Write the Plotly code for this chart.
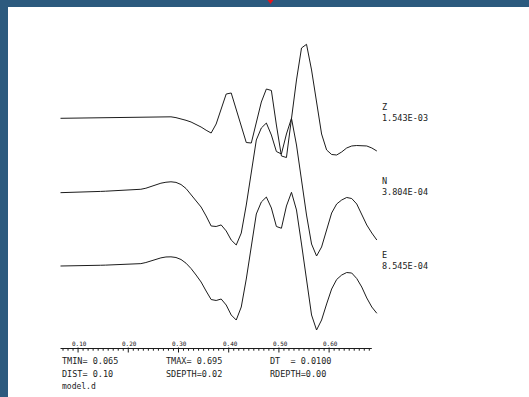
import numpy as np
import plotly.graph_objects as go

# ---- record header -------------------------------------------------------
TMIN = 0.065
TMAX = 0.695
DT = 0.0100
DIST = 0.10
SDEPTH = 0.02
RDEPTH = 0.00
MODEL = "model.d"

components = ["Z", "N", "E"]
peak_amp = [1.543e-03, 3.804e-04, 8.545e-04]

# ---- seismogram samples, in units of each trace's peak amplitude ---------
z_trace = [
    0.000, 0.001, 0.003, 0.004, 0.008, 0.008, 0.007, 0.005, 0.004, 0.004,
    0.004, 0.005, 0.007, 0.009, 0.014, 0.016, 0.018, 0.019, 0.020, 0.022,
    0.023, 0.023, 0.020, 0.009, -0.007, -0.027, -0.050, -0.081, -0.118, -0.161,
    -0.199, -0.077, 0.139, 0.328, 0.342, 0.112, -0.118, -0.327, -0.334, -0.050,
    0.220, 0.396, 0.376, -0.091, -0.509, -0.530, 0.004, 0.518, 0.950, 1.000,
    0.653, 0.193, -0.212, -0.428, -0.489, -0.496, -0.455, -0.401, -0.374, -0.368,
    -0.368, -0.374, -0.401, -0.442,
]
n_trace = [
    -0.005, -0.004, -0.003, 0.000, 0.001, 0.004, 0.007, 0.009, 0.012, 0.015,
    0.018, 0.020, 0.023, 0.026, 0.028, 0.034, 0.041, 0.055, 0.078, 0.104,
    0.123, 0.136, 0.142, 0.134, 0.105, 0.051, -0.030, -0.104, -0.199, -0.320,
    -0.455, -0.462, -0.441, -0.522, -0.645, -0.712, -0.551, -0.172, 0.274, 0.707,
    0.869, 0.936, 0.774, 0.551, 0.518, 0.788, 1.000, 0.639, 0.166, -0.307,
    -0.699, -0.861, -0.739, -0.509, -0.280, -0.158, -0.104, -0.070, -0.084, -0.158,
    -0.293, -0.442, -0.550, -0.645,
]
e_trace = [
    0.004, 0.004, 0.005, 0.007, 0.008, 0.009, 0.011, 0.012, 0.014, 0.016,
    0.018, 0.019, 0.020, 0.022, 0.024, 0.028, 0.036, 0.051, 0.072, 0.095,
    0.114, 0.126, 0.128, 0.119, 0.092, 0.042, -0.030, -0.118, -0.212, -0.334,
    -0.449, -0.462, -0.442, -0.523, -0.658, -0.726, -0.550, -0.172, 0.274, 0.707,
    0.869, 0.936, 0.788, 0.538, 0.514, 0.815, 1.000, 0.761, 0.301, -0.199,
    -0.658, -0.861, -0.726, -0.509, -0.307, -0.178, -0.118, -0.084, -0.091, -0.165,
    -0.280, -0.428, -0.550, -0.635,
]
traces = [z_trace, n_trace, e_trace]

# ---- time axis ----------------------------------------------------------
tick_major = [0.10, 0.20, 0.30, 0.40, 0.50, 0.60]
tick_labels = ["0.10", "0.20", "0.30", "0.40", "0.50", "0.60"]
axis_end = 0.685

# ---- page geometry (pixels) ---------------------------------------------
W, H = 529, 397
PX_PER_S = 502.1          # horizontal scale of the time axis
X0_PX = 60.5              # pixel column of TMIN
Z0_PX = 118.3             # pixel row of the first trace's zero line
TRACE_PX = 74.0           # pixel height of one unit (trace spacing = peak)
LABEL_X_PX = 381
AXIS_Y_PX = 348.5

INK = "#1c1c1c"
FRAME = "#2c5a7e"
MONO = "DejaVu Sans Mono"


def py(p):
    """pixel row -> paper y"""
    return 1.0 - p / H


def px(p):
    """pixel column -> paper x"""
    return p / W


x_range = [TMIN - X0_PX / PX_PER_S, TMIN + (W - X0_PX) / PX_PER_S]
y_range = [-(H - Z0_PX) / TRACE_PX, Z0_PX / TRACE_PX]

fig = go.Figure()
annotations = []
shapes = []

for i, (name, trace, peak) in enumerate(zip(components, traces, peak_amp)):
    amp = np.asarray(trace) * peak
    t = TMIN + DT * np.arange(len(amp))
    amax = np.max(np.abs(amp))
    offset = -float(i)
    fig.add_trace(go.Scatter(
        x=t, y=offset + amp / amax, mode="lines",
        line=dict(color=INK, width=1), hoverinfo="skip", showlegend=False,
    ))
    base_px = Z0_PX + i * TRACE_PX
    # component name stacked over its peak amplitude
    annotations.append(dict(
        text=f"{name}<br>{amax:.3E}", x=px(LABEL_X_PX), y=py(base_px + 5.5),
        xref="paper", yref="paper", xanchor="left", yanchor="bottom",
        align="left", showarrow=False, borderpad=0,
        font=dict(family=MONO, size=8.5, color=INK)))

# time axis line with minor ticks every DT and major ticks at labelled values
shapes.append(dict(type="line", xref="x", yref="paper",
                   x0=TMIN, x1=axis_end, y0=py(AXIS_Y_PX), y1=py(AXIS_Y_PX),
                   line=dict(color=INK, width=1)))
n_minor = int(round((axis_end - TMIN) / DT))
for k in range(n_minor + 1):
    tk = round(TMIN + 0.005 + k * DT, 4)
    if tk > axis_end:
        break
    major = any(abs(tk - m) < 1e-6 for m in tick_major)
    shapes.append(dict(type="line", xref="x", yref="paper",
                       x0=tk, x1=tk, y0=py(AXIS_Y_PX - (1.0 if major else 0.0)),
                       y1=py(AXIS_Y_PX + (4.0 if major else 2.2)),
                       line=dict(color=INK, width=1)))
for tv, tl in zip(tick_major, tick_labels):
    annotations.append(dict(
        text=tl, x=tv, y=py(343.5), xref="x", yref="paper",
        xanchor="center", yanchor="middle", xshift=1.5, showarrow=False,
        font=dict(family=MONO, size=6, color="#111111")))

# header block under the axis
rows = [
    (60, 361, f"TMIN= {TMIN:.3f}"),
    (164, 361, f"TMAX= {TMAX:.3f}"),
    (268, 361, f"DT  = {DT:.4f}"),
    (60, 373.5, f"DIST= {DIST:.2f}"),
    (164, 373.5, f"SDEPTH={SDEPTH:.2f}"),
    (268, 373.5, f"RDEPTH={RDEPTH:.2f}"),
]
for xp, yp, txt in rows:
    annotations.append(dict(
        text=txt, x=px(xp), y=py(yp), xref="paper", yref="paper",
        xanchor="left", yanchor="middle", showarrow=False,
        font=dict(family=MONO, size=8.5, color=INK)))
annotations.append(dict(
    text=MODEL, x=px(60), y=py(386), xref="paper", yref="paper",
    xanchor="left", yanchor="middle", showarrow=False,
    font=dict(family=MONO, size=8, color=INK)))

# window frame: blue strips along top and left, small red marker at top
shapes.append(dict(type="rect", xref="paper", yref="paper",
                   x0=0, x1=1, y0=py(7), y1=1, fillcolor=FRAME, line=dict(width=0)))
shapes.append(dict(type="rect", xref="paper", yref="paper",
                   x0=0, x1=px(8), y0=0, y1=1, fillcolor=FRAME, line=dict(width=0)))
shapes.append(dict(type="path", xref="paper", yref="paper",
                   path=f"M {px(267.5)},{py(0)} L {px(273.5)},{py(0)} L {px(270.5)},{py(4)} Z",
                   fillcolor="#e8141b", line=dict(width=0)))

fig.update_layout(
    width=W, height=H,
    margin=dict(l=0, r=0, t=0, b=0),
    paper_bgcolor="white", plot_bgcolor="white",
    xaxis=dict(range=x_range, visible=False, fixedrange=True),
    yaxis=dict(range=y_range, visible=False, fixedrange=True),
    shapes=shapes, annotations=annotations,
    showlegend=False,
)

fig.write_html("out.html", config={"displayModeBar": False})
